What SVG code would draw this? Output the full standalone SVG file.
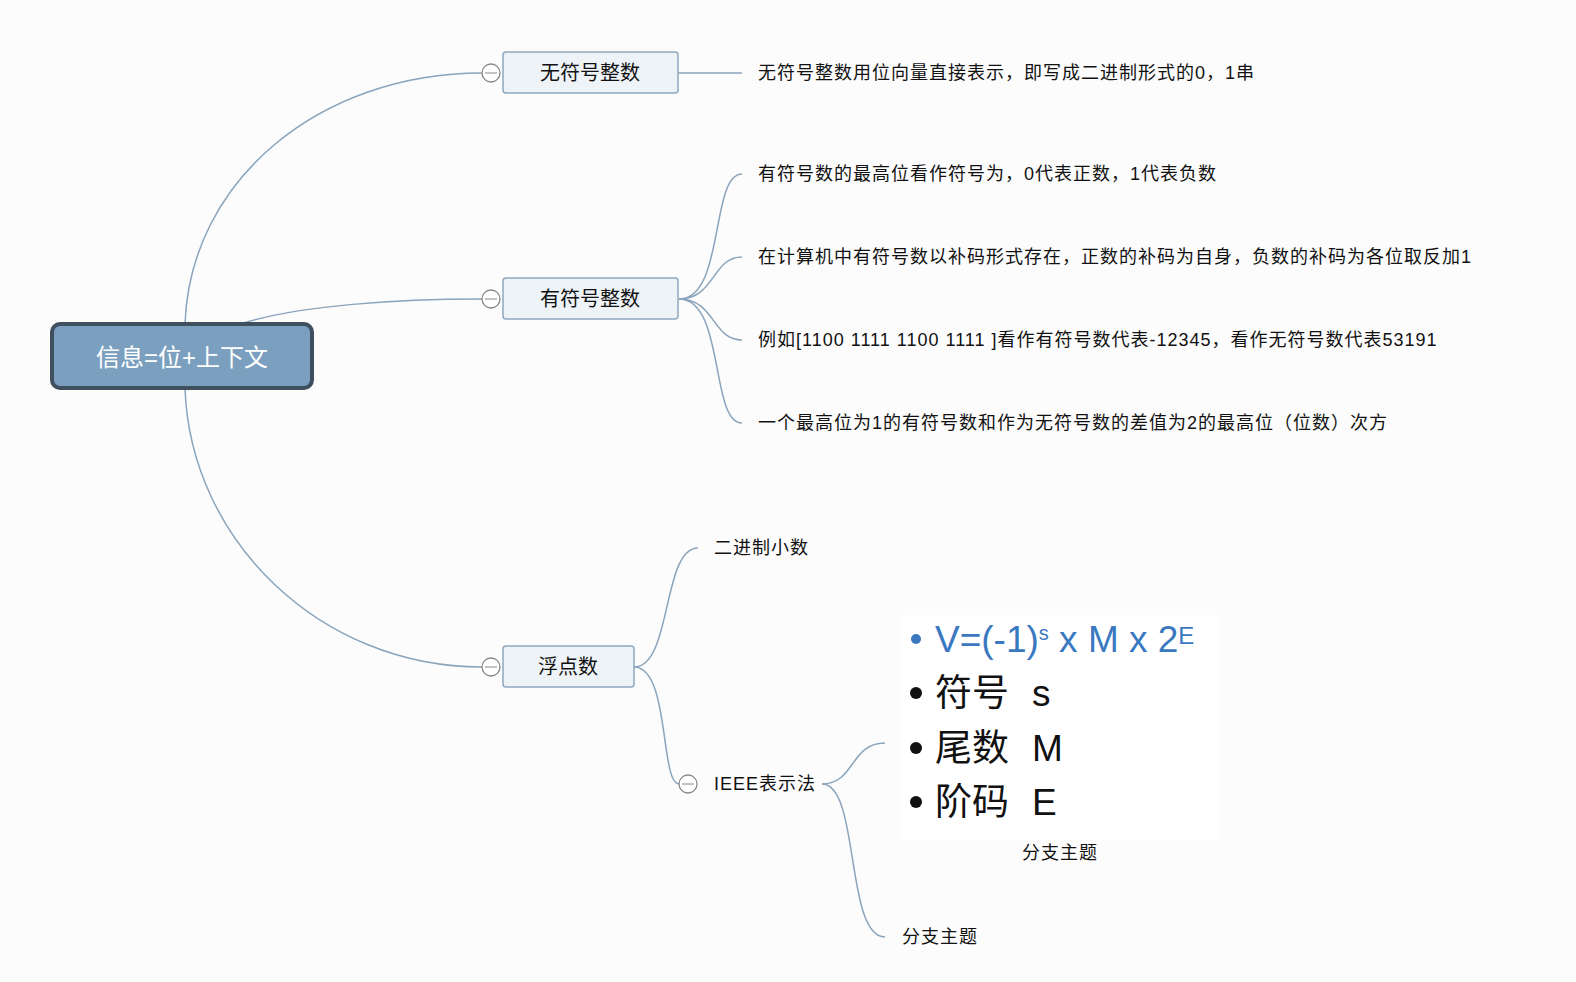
<svg xmlns="http://www.w3.org/2000/svg" width="1576" height="982" viewBox="0 0 1576 982">
<style>
text{font-family:"Liberation Sans","Noto Sans CJK SC",sans-serif;fill:#111;dominant-baseline:central}
.sub rect{fill:#eef3f8;stroke:#8fa8c0;stroke-width:1.5}
.sub text{font-size:20px;text-anchor:middle}
.c{fill:#fff;stroke:#888;stroke-width:1.3}
.t{font-size:18px;letter-spacing:1px}
.conn path{fill:none;stroke:#8aa4bc;stroke-width:1.5}
.big{font-size:37px}
</style>
<rect width="1576" height="982" fill="#fcfcfc"/>
<g class="conn">
<path d="M185,324 C190,180 320,73 482,73"/>
<path d="M240,324 C300,305 400,299 482,299"/>
<path d="M185,388 C190,540 320,667 482,667"/>
<path d="M678,73 L742,73"/>
<path d="M679,299 C725,299 710,174 742,174"/>
<path d="M679,299 C715,299 712,257 742,257"/>
<path d="M679,299 C715,299 712,340 742,340"/>
<path d="M679,299 C725,299 710,423 742,423"/>
<path d="M634,667 C672,667 662,548 698,548"/>
<path d="M634,667 C670,667 660,784 679,784"/>
<path d="M822,784 C855,784 850,743 885,743"/>
<path d="M822,784 C860,784 845,937 885,937"/>
</g>
<g id="root">
<rect x="52" y="324" width="260" height="64" rx="8" fill="#7b9fbf" stroke="#3f4f5e" stroke-width="4"/>
<text x="182" y="357" style="fill:#fff;font-size:24px;text-anchor:middle">信息=位+上下文</text>
</g>
<g id="n1" class="sub"><rect x="503" y="52" width="175" height="41" rx="3"/><text x="590" y="73">无符号整数</text><circle class="c" cx="491" cy="73" r="9"/><path d="M485,73h12" stroke="#888"/></g>
<g id="n2" class="sub"><rect x="503" y="278" width="175" height="41" rx="3"/><text x="590" y="299">有符号整数</text><circle class="c" cx="491" cy="299" r="9"/><path d="M485,299h12" stroke="#888"/></g>
<g id="n3" class="sub"><rect x="503" y="646" width="131" height="41" rx="3"/><text x="568" y="667">浮点数</text><circle class="c" cx="491" cy="667" r="9"/><path d="M485,667h12" stroke="#888"/></g>
<g id="t1"><text class="t" x="758" y="73">无符号整数用位向量直接表示，即写成二进制形式的0，1串</text></g>
<g id="t2"><text class="t" x="758" y="174">有符号数的最高位看作符号为，0代表正数，1代表负数</text></g>
<g id="t3"><text class="t" x="758" y="257">在计算机中有符号数以补码形式存在，正数的补码为自身，负数的补码为各位取反加1</text></g>
<g id="t4"><text class="t" x="758" y="340">例如[1100 1111 1100 1111 ]看作有符号数代表-12345，看作无符号数代表53191</text></g>
<g id="t5"><text class="t" x="758" y="423">一个最高位为1的有符号数和作为无符号数的差值为2的最高位（位数）次方</text></g>
<g id="t6"><text class="t" x="714" y="548">二进制小数</text></g>
<g id="ieee"><circle class="c" cx="688" cy="784" r="9"/><path d="M682,784h12" stroke="#888"/><text class="t" x="714" y="784">IEEE表示法</text></g>
<g id="formula">
<rect x="900" y="615" width="320" height="225" fill="#fff"/>
<circle cx="916" cy="639" r="5" fill="#3a78bf"/>
<text class="big" x="935" y="639" style="fill:#3a78bf">V=(-1)<tspan font-size="20" dy="-6">s</tspan><tspan dy="6"> x M x 2</tspan><tspan font-size="24" dy="-4">E</tspan></text>
<circle cx="916" cy="693" r="6" fill="#111"/><text class="big" x="935" y="693">符号<tspan x="1032">s</tspan></text>
<circle cx="916" cy="748" r="6" fill="#111"/><text class="big" x="935" y="748">尾数<tspan x="1032">M</tspan></text>
<circle cx="916" cy="802" r="6" fill="#111"/><text class="big" x="935" y="802">阶码<tspan x="1032">E</tspan></text>
<text class="t" x="1060" y="853" text-anchor="middle">分支主题</text>
</g>
<g id="t8"><text class="t" x="902" y="937">分支主题</text></g>
</svg>
